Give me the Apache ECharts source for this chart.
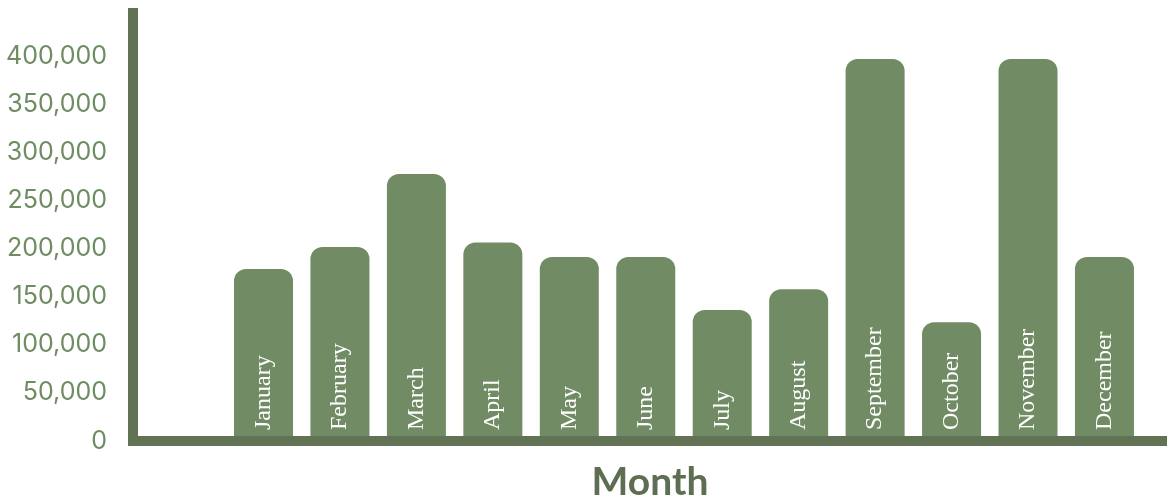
<!DOCTYPE html>
<html>
<head>
<meta charset="utf-8">
<script src="https://cdn.jsdelivr.net/npm/echarts@6/dist/echarts.min.js"></script>
<style>
html,body{margin:0;padding:0;background:#fff;}
#chart{width:1167px;height:504px;}
</style>
</head>
<body>
<div id="chart"></div>
<script>
var categories = ['January','February','March','April','May','June','July','August','September','October','November','December'];
var sales = [178700, 201600, 277400, 206400, 191200, 191200, 136100, 157600, 396900, 123300, 396900, 191200];
var yTicks = [0, 50000, 100000, 150000, 200000, 250000, 300000, 350000, 400000];
var axisTitle = 'Month';

var barData = sales.map(function (v, i) { return [i + 1, v]; });

var chart = echarts.init(document.getElementById('chart'));
chart.setOption({
  animation: false,
  grid: { left: 133, right: 0, top: 8, bottom: 63, containLabel: false, outerBoundsMode: 'none' },
  xAxis: {
    type: 'value',
    min: -0.707,
    max: 12.818,
    z: 5,
    name: axisTitle,
    nameLocation: 'middle',
    nameGap: 22,
    nameTextStyle: { color: '#5e6e52', fontSize: 39, fontWeight: 'bold', fontFamily: 'Lato', verticalAlign: 'top' },
    axisLine: { show: true, onZero: false, lineStyle: { color: '#617255', width: 10, cap: 'square' } },
    axisTick: { show: false },
    axisLabel: { show: false },
    splitLine: { show: false }
  },
  yAxis: {
    type: 'value',
    min: 0,
    max: 450000,
    interval: 50000,
    z: 5,
    axisLine: { show: true, onZero: false, lineStyle: { color: '#617255', width: 10, cap: 'butt' } },
    axisTick: { show: false },
    splitLine: { show: false },
    axisLabel: {
      margin: 26,
      color: '#6f8c63',
      fontSize: 25,
      fontFamily: 'Inter',
      formatter: function (v) {
        if (yTicks.indexOf(v) < 0) return '';
        return v.toLocaleString('en-US');
      }
    }
  },
  series: [{
    type: 'bar',
    data: barData,
    barWidth: 59,
    itemStyle: { color: '#718c64', borderRadius: [12, 12, 0, 0] },
    label: {
      show: true,
      position: 'insideBottom',
      rotate: 90,
      align: 'left',
      verticalAlign: 'middle',
      distance: 11,
      color: '#ffffff',
      fontSize: 24,
      fontFamily: 'Liberation Serif',
      formatter: function (p) { return categories[p.dataIndex]; }
    }
  }]
});
</script>
</body>
</html>
